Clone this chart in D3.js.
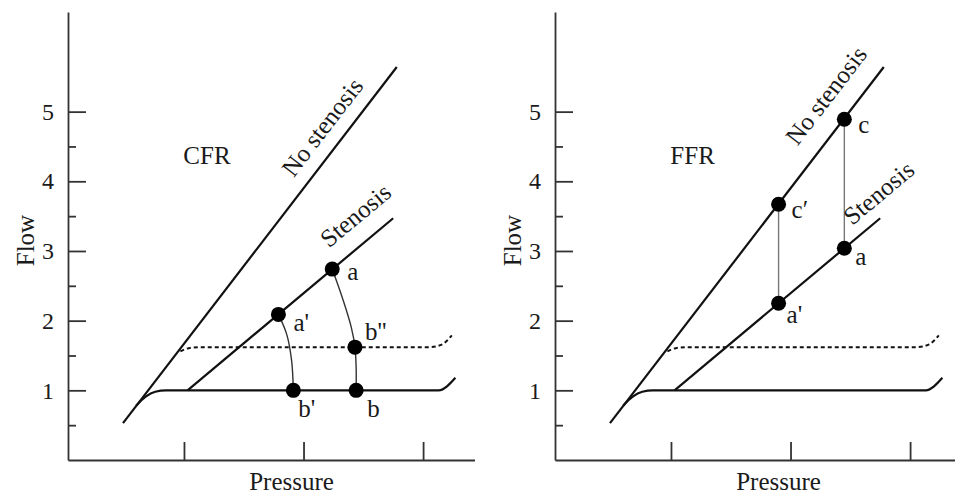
<!DOCTYPE html>
<html><head><meta charset="utf-8">
<script src="https://cdn.jsdelivr.net/npm/d3@7"></script>
<style>
html,body{margin:0;padding:0;background:#fff;}
text{font-family:"Liberation Serif","Times New Roman",serif;fill:#1a1a1a;}
</style></head>
<body>
<svg id="chart" width="955" height="497"></svg>
<script>
// ---- data ----
const xTickValues = [1, 2, 3];
const yTickValues = [1, 2, 3, 4, 5];
const yMinorTicks = [0.5, 1.5, 2.5, 3.5, 4.5];
const noStenosis = [[0.49, 0.53], [2.78, 5.64]];
const stenosis = [[1.03, 1.0], [2.75, 3.47]];
const restFlow = [[0.60, 0.78], [0.68, 0.91], [0.76, 0.98], [0.85, 1.0], [3.13, 1.0], [3.27, 1.18]];
const hyperFlow = [[0.97, 1.56], [1.04, 1.605], [1.14, 1.62], [3.06, 1.62], [3.16, 1.66], [3.24, 1.79]];
// CFR panel
const cfrPoints = [
  {name: "a", p: 2.24, f: 2.74, dx: 15, dy: 11},
  {name: "a'", p: 1.79, f: 2.09, dx: 15, dy: 17},
  {name: "b''", p: 2.43, f: 1.62, dx: 10, dy: -7},
  {name: "b", p: 2.44, f: 1.0, dx: 11, dy: 27},
  {name: "b'", p: 1.915, f: 1.0, dx: 5, dy: 27}
];
const cfrArcs = [
  [[2.24, 2.74], [2.33, 2.30], [2.40, 1.90], [2.43, 1.62], [2.44, 1.33], [2.44, 1.0]],
  [[1.79, 2.09], [1.86, 1.80], [1.90, 1.43], [1.915, 1.0]]
];
// FFR panel
const ffrPoints = [
  {name: "c", p: 2.45, f: 4.89, dx: 14, dy: 14},
  {name: "c\u2032", p: 1.90, f: 3.67, dx: 13, dy: 14},
  {name: "a", p: 2.45, f: 3.04, dx: 11, dy: 17},
  {name: "a'", p: 1.90, f: 2.25, dx: 8, dy: 20}
];
const ffrVerticals = [
  [[2.45, 4.89], [2.45, 3.04]],
  [[1.90, 3.67], [1.90, 2.25]]
];

const panels = [
  {offset: 0, title: "CFR", points: cfrPoints, arcs: cfrArcs, verticals: [],
   labels: [{text: "No stenosis", line: noStenosis, p: 2.01, off: 14},
            {text: "Stenosis", line: stenosis, p: 2.31, off: 18}]},
  {offset: 487, title: "FFR", points: ffrPoints, arcs: [], verticals: ffrVerticals,
   labels: [{text: "No stenosis", line: noStenosis, p: 2.19, off: 20},
            {text: "Stenosis", line: stenosis, p: 2.58, off: 12}]}
];

const svg = d3.select("#chart");
const x = d3.scaleLinear().domain([0.03, 3.43]).range([68, 474.5]);
const y = d3.scaleLinear().domain([0, 6.43]).range([460, 12]);
const line = d3.line().x(d => x(d[0])).y(d => y(d[1]));

panels.forEach(P => {
  const g = svg.append("g").attr("transform", `translate(${P.offset},0)`);

  // axes
  const yAx = g.append("g").attr("transform", `translate(${x.range()[0]},0)`)
    .call(d3.axisLeft(y).tickValues(yTickValues).tickSize(-18).tickSizeOuter(0).tickPadding(14).tickFormat(d3.format("d")));
  yAx.selectAll("text").style("font-size", "24px").style("font-family", '"Liberation Serif",serif').attr("fill", "#1a1a1a");
  const yMin = g.append("g").attr("transform", `translate(${x.range()[0]},0)`)
    .call(d3.axisLeft(y).tickValues(yMinorTicks).tickSize(-8).tickFormat(""));
  yMin.select(".domain").remove();
  const xAx = g.append("g").attr("transform", `translate(0,${y.range()[0]})`)
    .call(d3.axisBottom(x).tickValues(xTickValues).tickSize(-18).tickSizeOuter(0).tickFormat(""));
  g.selectAll(".domain, .tick line").attr("stroke", "#333").attr("stroke-width", 1.8);

  // axis titles
  g.append("text").attr("x", x(1.9)).attr("y", 490).attr("text-anchor", "middle")
    .style("font-size", "25px").text("Pressure");
  g.append("text").attr("transform", `translate(34,${y(3.15)}) rotate(-90)`).attr("text-anchor", "middle")
    .style("font-size", "25px").text("Flow");

  // panel title
  g.append("text").attr("x", x(0.995)).attr("y", y(4.25)).style("font-size", "25px").text(P.title);

  // curves
  const mono = d3.line().x(d => x(d[0])).y(d => y(d[1])).curve(d3.curveMonotoneX);
  g.append("path").attr("d", mono(hyperFlow)).attr("fill", "none").attr("stroke", "#111")
    .attr("stroke-width", 2).attr("stroke-dasharray", "4,3");
  g.append("path").attr("d", mono(restFlow)).attr("fill", "none").attr("stroke", "#111").attr("stroke-width", 2.2);
  g.append("path").attr("d", line(noStenosis)).attr("fill", "none").attr("stroke", "#111").attr("stroke-width", 2.2);
  g.append("path").attr("d", line(stenosis)).attr("fill", "none").attr("stroke", "#111").attr("stroke-width", 2.2);

  // arcs / verticals
  const arcLine = d3.line().x(d => x(d[0])).y(d => y(d[1])).curve(d3.curveCatmullRom);
  P.arcs.forEach(a => g.append("path").attr("d", arcLine(a)).attr("fill", "none")
    .attr("stroke", "#333").attr("stroke-width", 1.4));
  P.verticals.forEach(v => g.append("path").attr("d", line(v)).attr("fill", "none")
    .attr("stroke", "#777").attr("stroke-width", 1.4));

  // line labels
  P.labels.forEach(L => {
    const [p1, f1] = L.line[0], [p2, f2] = L.line[1];
    const f = f1 + (f2 - f1) * (L.p - p1) / (p2 - p1);
    const ang = Math.atan2(y(f2) - y(f1), x(p2) - x(p1)) * 180 / Math.PI;
    g.append("text").attr("transform", `translate(${x(L.p)},${y(f)}) rotate(${ang})`)
      .attr("y", -L.off).style("font-size", "25px").text(L.text);
  });

  // points
  g.selectAll("circle.pt").data(P.points).join("circle").attr("class", "pt")
    .attr("cx", d => x(d.p)).attr("cy", d => y(d.f)).attr("r", 7.5).attr("fill", "#000");
  g.selectAll("text.pl").data(P.points).join("text").attr("class", "pl")
    .attr("x", d => x(d.p) + d.dx).attr("y", d => y(d.f) + d.dy)
    .style("font-size", "25px").text(d => d.name);
});
</script>
</body></html>
